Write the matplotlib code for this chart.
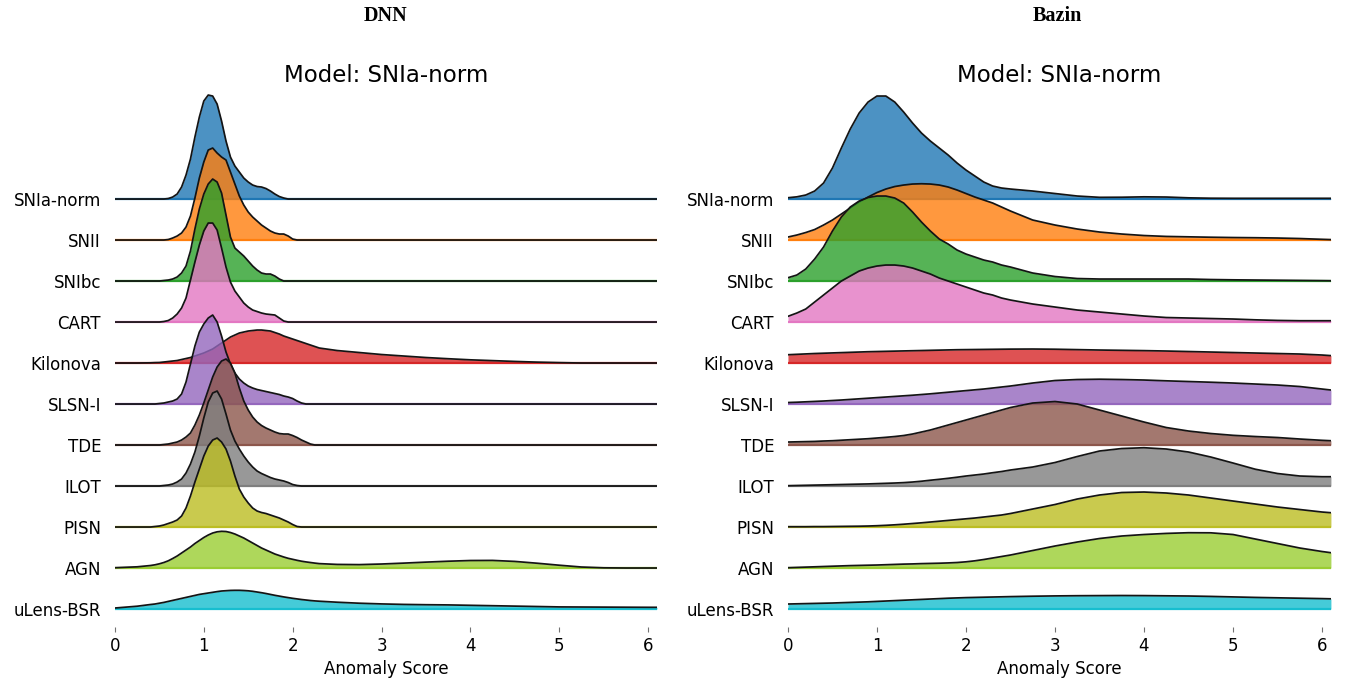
import matplotlib.pyplot as plt
import numpy as np

# Clases y colores (de arriba hacia abajo)
clases = ["SNIa-norm", "SNII", "SNIbc", "CART", "Kilonova", "SLSN-I",
          "TDE", "ILOT", "PISN", "AGN", "uLens-BSR"]
colores = ["tab:blue", "tab:orange", "tab:green", "tab:pink", "tab:red", "tab:purple",
           "tab:brown", "tab:gray", "tab:olive", "yellowgreen", "tab:cyan"]
ticks_x = [0, 1, 2, 3, 4, 5, 6]

# Malla de la puntuación de anomalía (DNN)
dnn_x = [0, 0.25, 0.4, 0.45, 0.5, 0.55,
         0.6, 0.65, 0.7, 0.75, 0.8, 0.85, 0.9, 0.95,
         1.0, 1.05, 1.1, 1.15, 1.2, 1.25, 1.3, 1.35,
         1.4, 1.45, 1.5, 1.55, 1.6, 1.65, 1.7, 1.75,
         1.8, 1.85, 1.9, 1.95, 2.0, 2.05, 2.1, 2.15,
         2.2, 2.25, 2.3,
         2.5, 2.75, 3.0, 3.25, 3.5, 3.75, 4.0, 4.25, 4.5, 4.75, 5.0, 5.25, 5.5, 5.75, 6.0, 6.1]

# Densidades DNN (una lista por clase)
dnn_densidad = [
    # SNIa-norm
    [0, 0, 0, 0, 0, 0,
     0.005, 0.02, 0.05, 0.12, 0.24, 0.40, 0.62, 0.82,
     0.98, 1.04, 1.03, 0.95, 0.78, 0.58, 0.42, 0.33,
     0.27, 0.21, 0.17, 0.14, 0.125, 0.12, 0.105, 0.08,
     0.05, 0.025, 0.01, 0, 0, 0, 0, 0,
     0, 0, 0,
     0, 0, 0, 0, 0, 0, 0, 0, 0, 0, 0, 0, 0, 0, 0, 0],
    # SNII
    [0, 0, 0, 0, 0, 0,
     0.005, 0.02, 0.04, 0.07, 0.13, 0.24, 0.42, 0.62,
     0.78, 0.90, 0.92, 0.87, 0.83, 0.80, 0.68, 0.56,
     0.44, 0.35, 0.28, 0.23, 0.19, 0.15, 0.12, 0.09,
     0.07, 0.06, 0.06, 0.04, 0.01, 0, 0, 0,
     0, 0, 0,
     0, 0, 0, 0, 0, 0, 0, 0, 0, 0, 0, 0, 0, 0, 0, 0],
    # SNIbc
    [0, 0, 0, 0, 0, 0.005,
     0.01, 0.02, 0.04, 0.08, 0.15, 0.30, 0.52, 0.72,
     0.87, 0.97, 1.02, 0.99, 0.88, 0.66, 0.44, 0.33,
     0.29, 0.25, 0.20, 0.15, 0.11, 0.08, 0.07, 0.07,
     0.05, 0.02, 0, 0, 0, 0, 0, 0,
     0, 0, 0,
     0, 0, 0, 0, 0, 0, 0, 0, 0, 0, 0, 0, 0, 0, 0, 0],
    # CART
    [0, 0, 0, 0, 0, 0.005,
     0.015, 0.04, 0.08, 0.14, 0.24, 0.42, 0.60, 0.77,
     0.91, 0.99, 0.99, 0.92, 0.74, 0.55, 0.40, 0.31,
     0.25, 0.19, 0.15, 0.12, 0.105, 0.09, 0.08, 0.075,
     0.07, 0.04, 0.01, 0, 0, 0, 0, 0,
     0, 0, 0,
     0, 0, 0, 0, 0, 0, 0, 0, 0, 0, 0, 0, 0, 0, 0, 0],
    # Kilonova
    [0, 0, 0.002, 0.004, 0.005, 0.01,
     0.015, 0.02, 0.025, 0.035, 0.045, 0.055, 0.07, 0.085,
     0.10, 0.12, 0.14, 0.17, 0.20, 0.23, 0.26, 0.28,
     0.30, 0.31, 0.32, 0.325, 0.33, 0.33, 0.325, 0.32,
     0.305, 0.29, 0.27, 0.255, 0.24, 0.225, 0.21, 0.195,
     0.18, 0.165, 0.15,
     0.125, 0.105, 0.085, 0.07, 0.055, 0.043, 0.032, 0.024, 0.016, 0.009, 0.004, 0, 0, 0, 0, 0],
    # SLSN-I
    [0, 0, 0, 0, 0.005, 0.01,
     0.02, 0.03, 0.05, 0.10, 0.22, 0.40, 0.58, 0.72,
     0.80, 0.86, 0.89, 0.82, 0.68, 0.52, 0.40, 0.31,
     0.25, 0.21, 0.18, 0.16, 0.145, 0.135, 0.125, 0.115,
     0.105, 0.095, 0.08, 0.07, 0.055, 0.03, 0.01, 0,
     0, 0, 0,
     0, 0, 0, 0, 0, 0, 0, 0, 0, 0, 0, 0, 0, 0, 0, 0],
    # TDE
    [0, 0, 0, 0, 0, 0.005,
     0.01, 0.02, 0.03, 0.05, 0.08, 0.12, 0.20, 0.30,
     0.42, 0.55, 0.68, 0.78, 0.84, 0.86, 0.82, 0.72,
     0.57, 0.44, 0.35, 0.28, 0.23, 0.195, 0.17, 0.15,
     0.13, 0.115, 0.11, 0.11, 0.095, 0.075, 0.05, 0.03,
     0.01, 0, 0,
     0, 0, 0, 0, 0, 0, 0, 0, 0, 0, 0, 0, 0, 0, 0, 0],
    # ILOT
    [0, 0, 0, 0, 0, 0.005,
     0.01, 0.02, 0.04, 0.07, 0.13, 0.22, 0.34, 0.50,
     0.68, 0.84, 0.93, 0.95, 0.87, 0.72, 0.56, 0.45,
     0.37, 0.30, 0.24, 0.19, 0.15, 0.125, 0.105, 0.085,
     0.07, 0.06, 0.05, 0.035, 0.015, 0.005, 0, 0,
     0, 0, 0,
     0, 0, 0, 0, 0, 0, 0, 0, 0, 0, 0, 0, 0, 0, 0, 0],
    # PISN
    [0, 0, 0, 0.005, 0.01, 0.02,
     0.035, 0.05, 0.07, 0.11, 0.19, 0.31, 0.45, 0.58,
     0.71, 0.81, 0.87, 0.89, 0.85, 0.78, 0.66, 0.51,
     0.38, 0.30, 0.24, 0.19, 0.16, 0.145, 0.135, 0.12,
     0.105, 0.09, 0.07, 0.05, 0.025, 0.005, 0, 0,
     0, 0, 0,
     0, 0, 0, 0, 0, 0, 0, 0, 0, 0, 0, 0, 0, 0, 0, 0],
    # AGN
    [0.003, 0.012, 0.025, 0.032, 0.042, 0.055,
     0.072, 0.095, 0.12, 0.15, 0.18, 0.21, 0.245, 0.275,
     0.305, 0.33, 0.35, 0.362, 0.367, 0.365, 0.355, 0.34,
     0.32, 0.30, 0.275, 0.25, 0.225, 0.20, 0.18, 0.16,
     0.14, 0.125, 0.11, 0.097, 0.087, 0.077, 0.068, 0.061,
     0.055, 0.049, 0.044,
     0.036, 0.034, 0.04, 0.049, 0.059, 0.068, 0.075, 0.076, 0.066, 0.048, 0.028, 0.01, 0.002, 0, 0, 0],
    # uLens-BSR
    [0.01, 0.028, 0.045, 0.05, 0.058, 0.066,
     0.076, 0.086, 0.096, 0.106, 0.116, 0.126, 0.136, 0.146,
     0.153, 0.16, 0.167, 0.174, 0.18, 0.183, 0.186, 0.187,
     0.187, 0.185, 0.182, 0.177, 0.17, 0.163, 0.155, 0.146,
     0.137, 0.129, 0.121, 0.114, 0.107, 0.101, 0.095, 0.09,
     0.085, 0.081, 0.078,
     0.068, 0.058, 0.051, 0.046, 0.043, 0.041, 0.037, 0.033, 0.029, 0.025, 0.021, 0.02, 0.019, 0.018, 0.017, 0.017],
]

# Malla de la puntuación de anomalía (Bazin)
bazin_x = [0, 0.1, 0.2, 0.3, 0.4, 0.5, 0.6, 0.7, 0.8, 0.9,
           1.0, 1.1, 1.2, 1.3, 1.4, 1.5, 1.6, 1.7, 1.8, 1.9,
           2.0, 2.1, 2.2, 2.3, 2.4, 2.5,
           2.75, 3.0, 3.25, 3.5, 3.75, 4.0, 4.25, 4.5, 4.75, 5.0, 5.25, 5.5, 5.75, 6.0,
           6.1]

bazin_densidad = [
    # SNIa-norm
    [0.013, 0.022, 0.04, 0.08, 0.16, 0.31, 0.51, 0.70, 0.86, 0.97,
     1.03, 1.03, 0.97, 0.87, 0.76, 0.66, 0.58, 0.51, 0.44, 0.36,
     0.29, 0.23, 0.17, 0.13, 0.11, 0.10,
     0.08, 0.055, 0.03, 0.017, 0.018, 0.022, 0.02, 0.012, 0.008, 0.007, 0.007, 0.007, 0.007, 0.007,
     0.007],
    # SNII
    [0.03, 0.05, 0.075, 0.105, 0.15, 0.20, 0.26, 0.32, 0.38, 0.43,
     0.475, 0.51, 0.535, 0.55, 0.56, 0.563, 0.56, 0.55, 0.53, 0.50,
     0.465, 0.43, 0.40, 0.37, 0.33, 0.29,
     0.20, 0.15, 0.11, 0.08, 0.06, 0.045, 0.036, 0.032, 0.028, 0.025, 0.023, 0.02, 0.015, 0.007,
     0.004],
    # SNIbc
    [0.033, 0.06, 0.12, 0.22, 0.34, 0.50, 0.64, 0.74, 0.80, 0.835,
     0.85, 0.85, 0.83, 0.78, 0.69, 0.59, 0.50, 0.42, 0.37, 0.31,
     0.27, 0.24, 0.21, 0.19, 0.16, 0.14,
     0.08, 0.045, 0.025, 0.02, 0.02, 0.02, 0.02, 0.02, 0.015, 0.012, 0.01, 0.008, 0.006, 0.004,
     0.003],
    # CART
    [0.057, 0.09, 0.13, 0.20, 0.27, 0.34, 0.41, 0.46, 0.51, 0.54,
     0.56, 0.57, 0.57, 0.56, 0.54, 0.51, 0.48, 0.44, 0.41, 0.38,
     0.35, 0.32, 0.29, 0.27, 0.24, 0.22,
     0.18, 0.15, 0.12, 0.10, 0.08, 0.06, 0.045, 0.04, 0.035, 0.03, 0.022, 0.016, 0.013, 0.013,
     0.013],
    # Kilonova
    [0.083, 0.087, 0.091, 0.095, 0.098, 0.101, 0.104, 0.107, 0.11, 0.113,
     0.115, 0.117, 0.119, 0.121, 0.123, 0.125, 0.127, 0.129, 0.131, 0.133,
     0.134, 0.135, 0.136, 0.137, 0.138, 0.139,
     0.14, 0.138, 0.134, 0.13, 0.127, 0.124, 0.12, 0.115, 0.11, 0.105, 0.1, 0.095, 0.09, 0.08,
     0.074],
    # SLSN-I
    [0.015, 0.018, 0.022, 0.026, 0.03, 0.035, 0.04, 0.046, 0.052, 0.058,
     0.064, 0.07, 0.076, 0.082, 0.088, 0.095, 0.102, 0.11, 0.118, 0.126,
     0.134, 0.142, 0.15, 0.16, 0.17, 0.18,
     0.21, 0.235, 0.245, 0.248, 0.245, 0.24, 0.232, 0.225, 0.218, 0.21, 0.20, 0.19, 0.175, 0.15,
     0.14],
    # TDE
    [0.03, 0.032, 0.034, 0.036, 0.04, 0.043, 0.048, 0.053, 0.058, 0.063,
     0.07, 0.077, 0.085, 0.095, 0.11, 0.13, 0.15, 0.175, 0.20, 0.225,
     0.25, 0.275, 0.30, 0.325, 0.35, 0.375,
     0.42, 0.435, 0.41, 0.35, 0.29, 0.23, 0.175, 0.14, 0.115, 0.097, 0.085, 0.075, 0.06, 0.047,
     0.043],
    # ILOT
    [0.003, 0.005, 0.007, 0.009, 0.011, 0.013, 0.015, 0.017, 0.019, 0.021,
     0.024, 0.027, 0.03, 0.034, 0.04, 0.048, 0.058, 0.067, 0.077, 0.088,
     0.10, 0.11, 0.12, 0.133, 0.145, 0.16,
     0.19, 0.235, 0.295, 0.35, 0.375, 0.383, 0.37, 0.34, 0.29, 0.23, 0.168, 0.125, 0.10, 0.093,
     0.093],
    # PISN
    [0.003, 0.003, 0.003, 0.004, 0.004, 0.005, 0.006, 0.007, 0.008, 0.01,
     0.013, 0.017, 0.022, 0.028, 0.035, 0.042, 0.05, 0.058, 0.066, 0.074,
     0.082, 0.09, 0.10, 0.11, 0.12, 0.135,
     0.18, 0.225, 0.28, 0.32, 0.345, 0.35, 0.34, 0.32, 0.29, 0.26, 0.23, 0.20, 0.175, 0.15,
     0.143],
    # AGN
    [0.003, 0.006, 0.009, 0.012, 0.015, 0.018, 0.021, 0.024, 0.026, 0.028,
     0.03, 0.033, 0.036, 0.039, 0.041, 0.044, 0.046, 0.048, 0.051, 0.055,
     0.062, 0.072, 0.085, 0.10, 0.115, 0.13,
     0.175, 0.22, 0.26, 0.295, 0.32, 0.335, 0.346, 0.353, 0.352, 0.335, 0.29, 0.245, 0.20, 0.165,
     0.153],
    # uLens-BSR
    [0.05, 0.052, 0.054, 0.056, 0.058, 0.06, 0.063, 0.066, 0.069, 0.072,
     0.076, 0.08, 0.084, 0.088, 0.092, 0.096, 0.10, 0.104, 0.108, 0.111,
     0.114, 0.116, 0.118, 0.12, 0.122, 0.124,
     0.128, 0.131, 0.133, 0.134, 0.135, 0.134, 0.132, 0.13, 0.126, 0.121, 0.116, 0.112, 0.108, 0.104,
     0.102],
]

# Separación vertical entre filas (en unidades de densidad)
separacion = 0.41


def dibujar_ridge(ax, x, densidades):
    n = len(clases)
    x = np.array(x)
    bases = []
    for i, (color, dens) in enumerate(zip(colores, densidades)):
        base = (n - 1 - i) * separacion
        bases.append(base)
        y = base + np.array(dens)
        z = 10 + i * 3
        ax.axhline(base, color=color, lw=1.6, zorder=z)
        ax.fill_between(x, base, y, color=color, alpha=0.8, lw=0, zorder=z + 1)
        ax.plot(x, y, color="#141414", lw=1.25, zorder=z + 2)
    ax.set_yticks(bases)
    ax.set_yticklabels(clases, fontsize=12)
    ax.tick_params(axis="y", length=0, pad=10)
    ax.set_xticks(ticks_x)
    ax.set_xticklabels([str(t) for t in ticks_x], fontsize=12)
    ax.tick_params(axis="x", length=3.5, width=0.8, color="0.45", pad=4)
    ax.set_xlim(0, 6.1)
    ax.set_ylim(-0.18, 5.19)
    ax.set_xlabel("Anomaly Score", fontsize=12, labelpad=3)
    for s in ax.spines.values():
        s.set_visible(False)
    ax.text(0.5, 1.028, "Model: SNIa-norm", transform=ax.transAxes,
            ha="center", va="center", fontsize=16.5)


fig = plt.figure(figsize=(13.49, 6.78), dpi=100)
ax1 = fig.add_axes([0.0852, 0.0752, 0.4018, 0.792])
ax2 = fig.add_axes([0.5841, 0.0752, 0.4025, 0.792])

dibujar_ridge(ax1, dnn_x, dnn_densidad)
dibujar_ridge(ax2, bazin_x, bazin_densidad)

fig.text(0.2860, 0.976, "DNN", ha="center", va="center", fontsize=14.5,
         fontweight="bold", family="Liberation Serif")
fig.text(0.7840, 0.976, "Bazin", ha="center", va="center", fontsize=14.5,
         fontweight="bold", family="Liberation Serif")

fig.savefig("out.png", dpi=100)
